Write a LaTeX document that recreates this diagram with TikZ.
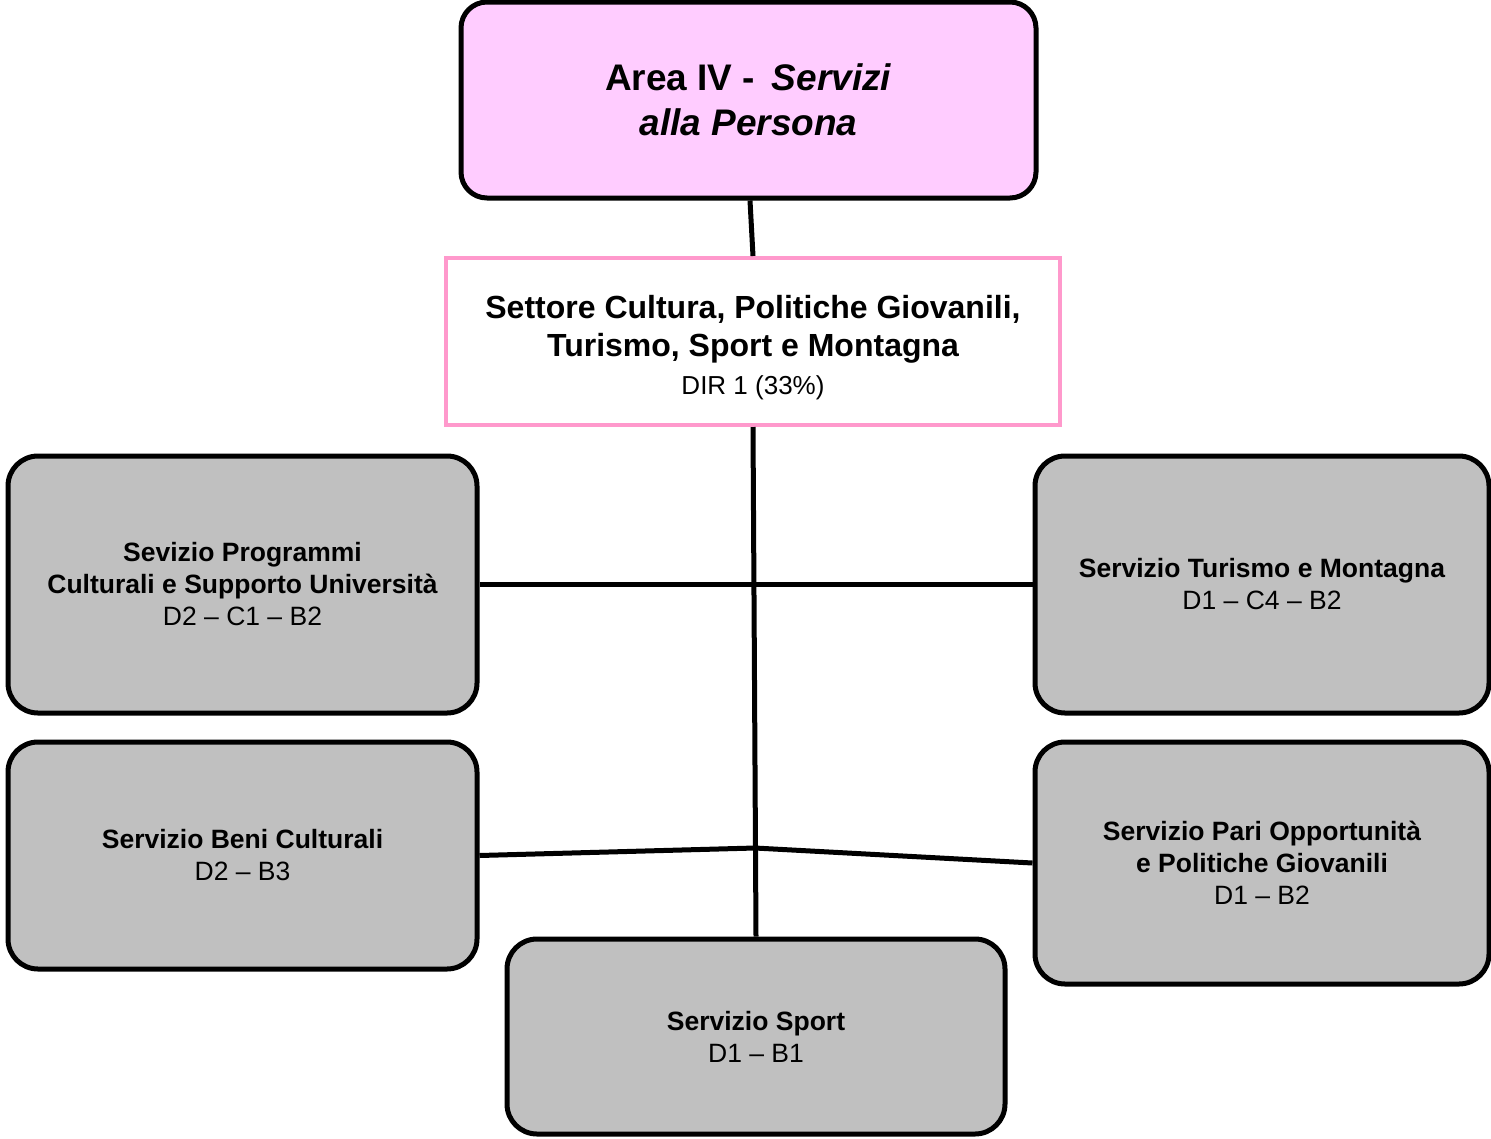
\documentclass[tikz,border=0pt]{standalone}
\usepackage{fontspec}
\setmainfont{Liberation Sans}
\definecolor{pinkfill}{HTML}{FFCCFF}
\definecolor{pinkline}{HTML}{FF99CC}
\definecolor{boxgray}{HTML}{C0C0C0}
\begin{document}
\begin{tikzpicture}[x=1pt,y=-1pt,
  topbox/.style={draw=black,line width=5pt,fill=pinkfill,rounded corners=26pt,align=center,inner sep=0pt,
     font=\fontsize{37}{45}\selectfont\bfseries},
  setbox/.style={draw=pinkline,line width=4pt,fill=white,inner sep=0pt},
  settext/.style={align=center,inner sep=0pt,font=\fontsize{32}{38}\selectfont\bfseries},
  graybox/.style={draw=black,line width=5pt,fill=boxgray,rounded corners=30pt,align=center,inner sep=0pt,
     font=\fontsize{26.5}{32}\selectfont},
  conn/.style={draw=black,line width=5pt}]
\useasboundingbox (0,0) rectangle (1491,1138);

\node[topbox,minimum width=575pt,minimum height=196pt] (top) at (748.5,100) {Area IV -\hspace{0.45em}\textit{Servizi}\\\textit{alla Persona}};
\node[setbox,minimum width=614pt,minimum height=167pt] (set) at (753,341.5) {};
\node[settext] (settxt) at (753,348)
  {Settore Cultura, Politiche Giovanili,\\Turismo, Sport e Montagna\\\fontsize{26}{33}\selectfont\mdseries DIR 1 (33\%)};
\node[graybox,minimum width=469pt,minimum height=257pt] (l1) at (242.5,584.5)
  {\textbf{Sevizio Programmi}\\\textbf{Culturali e Supporto Università}\\D2 – C1 – B2};
\node[graybox,minimum width=454pt,minimum height=257pt] (r1) at (1262,584.5)
  {\textbf{Servizio Turismo e Montagna}\\D1 – C4 – B2};
\node[graybox,minimum width=469pt,minimum height=227pt] (l2) at (242.5,855.5)
  {\textbf{Servizio Beni Culturali}\\D2 – B3};
\node[graybox,minimum width=454pt,minimum height=242pt] (r2) at (1262,863)
  {\textbf{Servizio Pari Opportunità}\\\textbf{e Politiche Giovanili}\\D1 – B2};
\node[graybox,minimum width=498pt,minimum height=195pt] (bot) at (756,1036.5)
  {\textbf{Servizio Sport}\\D1 – B1};

\coordinate (j) at (755,848);
\draw[conn] ([xshift=1.5pt]top.south) -- (set.north);
\draw[conn] (set.south) -- (bot.north);
\draw[conn] (l1.east) -- (r1.west);
\draw[conn] (l2.east) -- (j) -- (r2.west);
\draw[line width=2pt] ([xshift=-20pt,yshift=-1pt]j) -- ([xshift=8pt,yshift=-1pt]j);
\end{tikzpicture}
\end{document}
